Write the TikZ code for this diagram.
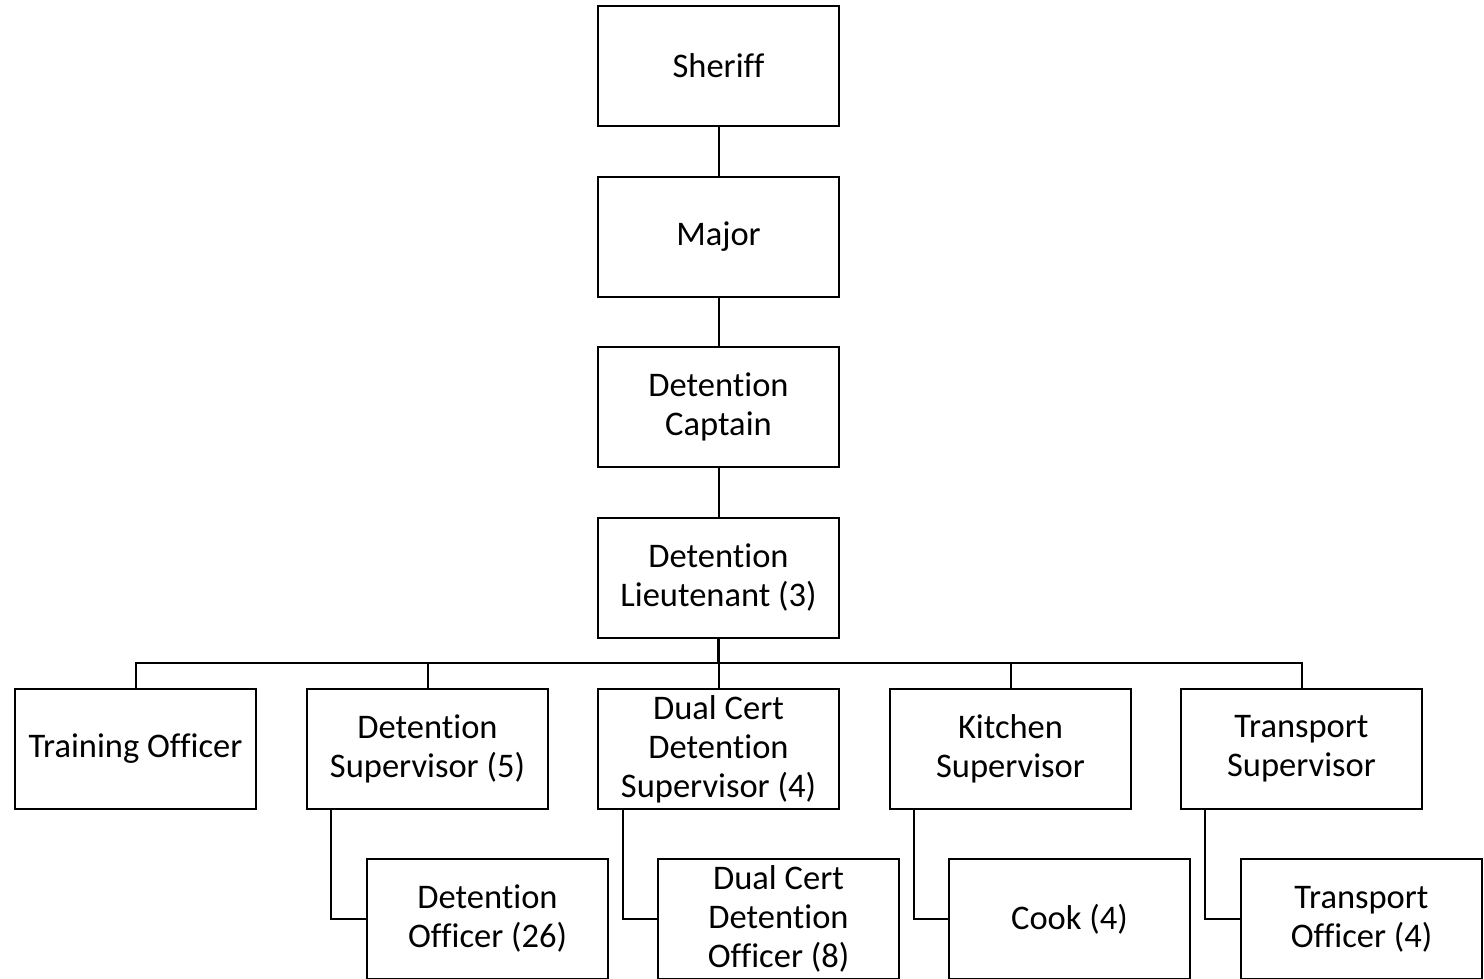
\documentclass[tikz,border=0pt]{standalone}
\usepackage{fontspec}
\setmainfont{Carlito}[Ligatures=NoCommon]
\begin{document}
\begin{tikzpicture}[x=1pt,y=-1pt,
  box/.style={draw, line width=2pt, minimum width=241pt, minimum height=120pt, align=center, inner sep=0pt, font=\fontsize{34.5}{39}\selectfont},
  conn/.style={line width=2pt}]
\useasboundingbox (0,0) rectangle (1484,979);
\clip (0,0) rectangle (1484,979);
% top chain
\node[box] (sh) at (718.5,66) {Sheriff};
\node[box] (mj) at (718.5,237) {Major};
\node[box] (cp) at (718.5,407) {Detention\\Captain};
\node[box] (lt) at (718.5,578) {Detention\\Lieutenant (3)};
% row 2
\node[box] (tr) at (135.5,749) {Training Officer};
\node[box] (ds) at (427.5,749) {Detention\\Supervisor (5)};
\node[box] (dc) at (718.5,749) {Dual Cert\\Detention\\Supervisor (4)};
\node[box] (ks) at (1010.5,749) {Kitchen\\Supervisor};
\node[box] (ts) at (1301.5,749) {Transport\\Supervisor};
% row 3
\node[box] (do) at (487.5,919) {Detention\\Officer (26)};
\node[box] (dco) at (778.5,919) {Dual Cert\\Detention\\Officer (8)};
\node[box] (ck) at (1069.5,919) {Cook (4)};
\node[box] (to) at (1361.5,919) {Transport\\Officer (4)};
% connectors
\draw[conn] (sh) -- (mj);
\draw[conn] (mj) -- (cp);
\draw[conn] (cp) -- (lt);
\coordinate (bus) at (718.5,663);
\draw[line width=3pt] (lt.south) -- (bus);
\draw[conn] (tr.north) -- (tr.north |- bus) -- (ts.north |- bus) -- (ts.north);
\draw[conn] (ds.north) -- (ds.north |- bus);
\draw[conn] (dc.north) -- (bus);
\draw[conn] (ks.north) -- (ks.north |- bus);
\coordinate (dsl) at (331,809);
\coordinate (dcl) at (623,809);
\coordinate (ksl) at (914,809);
\coordinate (tsl) at (1205,809);
\draw[conn] (dsl) |- (do.west);
\draw[conn] (dcl) |- (dco.west);
\draw[conn] (ksl) |- (ck.west);
\draw[conn] (tsl) |- (to.west);
\end{tikzpicture}
\end{document}
